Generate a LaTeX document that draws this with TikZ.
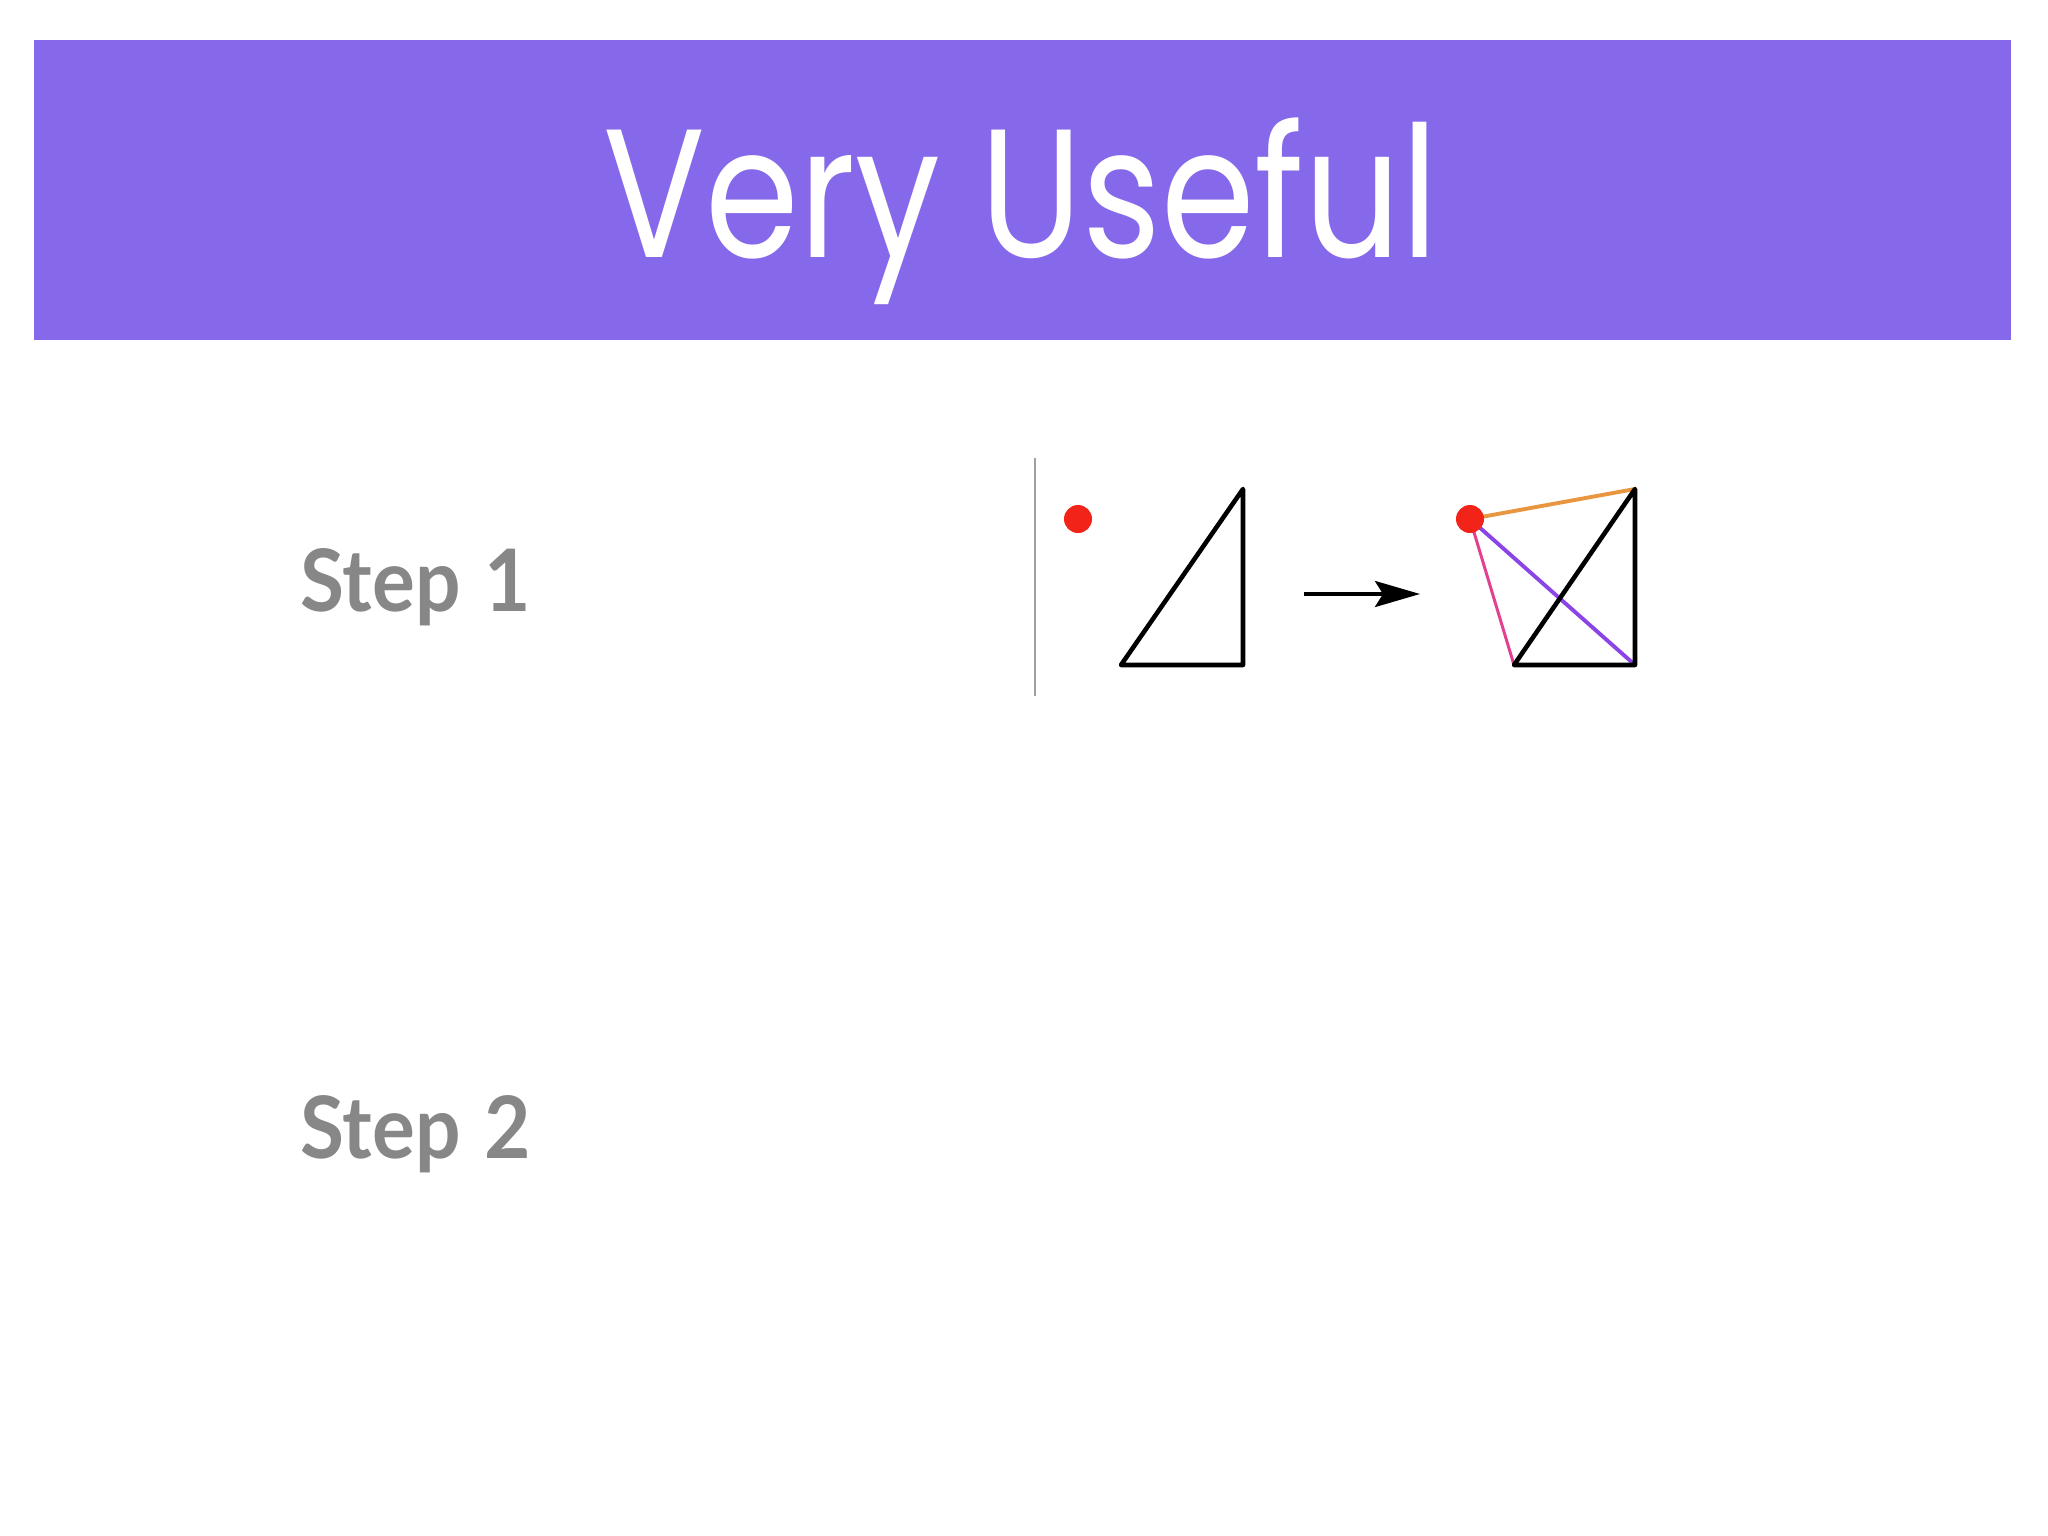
\documentclass[tikz,border=0pt]{standalone}
\usepackage{fontspec}
\setmainfont{Poppins}
\newfontfamily\stepfont{Lato}
\usetikzlibrary{arrows.meta}
\definecolor{band}{HTML}{8668EA}
\definecolor{steptext}{HTML}{878787}
\definecolor{dotred}{HTML}{F22318}
\definecolor{lorange}{HTML}{E8963F}
\definecolor{lpurple}{HTML}{8B45E6}
\definecolor{lpink}{HTML}{E2418F}
\definecolor{divider}{HTML}{A0A0A0}
\tikzset{
  steplabel/.style={anchor=base west, inner sep=0pt, text=steptext, xscale=0.93, font=\stepfont\bfseries\fontsize{24.5}{30}\selectfont},
  titletext/.style={anchor=base, inner sep=0pt, text=white, xscale=0.825, font=\fontsize{52}{60}\selectfont},
  reddot/.style={circle, fill=dotred, draw=none, minimum size=0.28cm, inner sep=0pt},
  blackline/.style={line width=1.3pt, black, line join=round, line cap=round},
}
\begin{document}
\begin{tikzpicture}[x=0.01cm, y=-0.01cm]
\useasboundingbox (0,0) rectangle (2048,1536);
\fill[white] (0,0) rectangle (2048,1536);
\fill[band] (34,40) rectangle (2011,340);
\node[titletext] (title) at (1021,257) {Very Useful};
\node[steplabel] (step1) at (300,611) {Step\hspace{0.3em}1};
\node[steplabel] (step2) at (300,1158) {Step\hspace{0.3em}2};
% divider
\coordinate (divT) at (1035,458);
\coordinate (divB) at (1035,696);
\draw[divider, line width=0.55pt] (divT) -- (divB);
% triangle 1
\coordinate (t1bl) at (1121,665);
\coordinate (t1br) at (1243,665);
\coordinate (t1t) at (1243,489);
\draw[blackline] (t1bl) -- (t1br) -- (t1t) -- cycle;
\node[reddot] (dotA) at (1078,519) {};
% arrow
\coordinate (arS) at (1304,594);
\coordinate (arE) at (1420,594);
\draw[line width=1.05pt, -{Stealth[length=0.45cm, width=0.26cm, inset=0.08cm]}] (arS) -- (arE);
% triangle 2
\coordinate (t2bl) at (1514,665);
\coordinate (t2br) at (1635,665);
\coordinate (t2t) at (1635,489);
\coordinate (dB) at (1470,519);
\draw[lorange, line width=1.1pt] (dB) -- (t2t);
\draw[lpurple, line width=1.1pt] (dB) -- (t2br);
\draw[lpink, line width=0.85pt] (dB) -- (t2bl);
\draw[blackline] (t2bl) -- (t2br) -- (t2t) -- cycle;
\node[reddot] (dotB) at (dB) {};
\end{tikzpicture}
\end{document}
